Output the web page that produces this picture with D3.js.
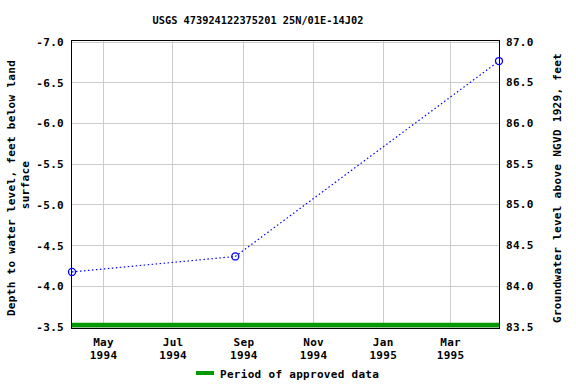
<!DOCTYPE html>
<html>
<head>
<meta charset="utf-8">
<script src="https://cdn.jsdelivr.net/npm/d3@7"></script>
<style>
  html, body { margin: 0; padding: 0; background: #fff; }
  text { font-family: "DejaVu Sans Mono", monospace; font-weight: bold; fill: #000; }
  .ls { letter-spacing: 0.3px; }
</style>
</head>
<body>
<svg id="chart" width="576" height="384"></svg>
<script>
// ---- data ----
const title = "USGS 473924122375201 25N/01E-14J02";
const dates = ["1994-04-04", "1994-08-25", "1995-04-13"];
const depths = [-4.17, -4.36, -6.76];
const leftTicks = [-7.0, -6.5, -6.0, -5.5, -5.0, -4.5, -4.0, -3.5];
const rightTicks = [87.0, 86.5, 86.0, 85.5, 85.0, 84.5, 84.0, 83.5];
const xTickDates = ["1994-05-01", "1994-07-01", "1994-09-01", "1994-11-01", "1995-01-01", "1995-03-01"];
const xTickMonths = ["May", "Jul", "Sep", "Nov", "Jan", "Mar"];
const xTickYears = ["1994", "1994", "1994", "1994", "1995", "1995"];
const approvedPeriod = ["1994-04-04", "1995-04-13"];
const leftLabel = ["Depth to water level, feet below land", "surface"];
const rightLabel = "Groundwater level above NGVD 1929, feet";
const legendLabel = "Period of approved data";

// ---- layout ----
const svg = d3.select("#chart");
const box = { left: 71, right: 499, top: 40, bottom: 328 };
const parse = d3.utcParse("%Y-%m-%d");

const x = d3.scaleUtc()
  .domain([parse(dates[0]), parse(dates[dates.length - 1])])
  .range([72, 499]);
const y = d3.scaleLinear().domain([-7.0, -3.5]).range([41.5, 326.5]);
const yR = d3.scaleLinear().domain([87.0, 83.5]).range([41.5, 326.5]);

// gridlines
const grid = svg.append("g").attr("stroke", "#cccccc").attr("stroke-width", 1);
leftTicks.forEach(v => {
  grid.append("line")
    .attr("x1", box.left).attr("x2", box.right)
    .attr("y1", Math.round(y(v)) + 0.5).attr("y2", Math.round(y(v)) + 0.5);
});
xTickDates.forEach(d => {
  const xx = Math.round(x(parse(d))) + 0.5;
  grid.append("line")
    .attr("x1", xx).attr("x2", xx)
    .attr("y1", box.top).attr("y2", box.bottom);
});

// approved period bar
svg.append("line")
  .attr("x1", x(parse(approvedPeriod[0])) - 1)
  .attr("x2", x(parse(approvedPeriod[1])) + 1)
  .attr("y1", y(-3.5) - 1.5).attr("y2", y(-3.5) - 1.5)
  .attr("stroke", "#009900").attr("stroke-width", 4.5);

// frame
svg.append("rect")
  .attr("x", box.left + 0.5).attr("y", box.top + 0.5)
  .attr("width", box.right - box.left).attr("height", box.bottom - box.top)
  .attr("fill", "none").attr("stroke", "#000").attr("stroke-width", 1);

// data line
const pts = dates.map((d, i) => [x(parse(d)), y(depths[i])]);
svg.append("path")
  .attr("d", d3.line()(pts))
  .attr("fill", "none").attr("stroke", "#0000ff").attr("stroke-width", 1.2)
  .attr("stroke-dasharray", "1.5,2.5");

svg.selectAll("circle.pt").data(pts).enter().append("circle")
  .attr("class", "pt")
  .attr("cx", d => d[0]).attr("cy", d => d[1]).attr("r", 3.5)
  .attr("fill", "none").attr("stroke", "#0000ff").attr("stroke-width", 1.3);

// left tick labels
svg.append("g").selectAll("text").data(leftTicks).enter().append("text")
  .attr("class", "ls")
  .attr("x", 64).attr("y", d => y(d) + 4.5)
  .attr("text-anchor", "end").attr("font-size", "11px")
  .text(d => d.toFixed(1));

// right tick labels
svg.append("g").selectAll("text").data(rightTicks).enter().append("text")
  .attr("class", "ls")
  .attr("x", 506).attr("y", d => yR(d) + 4)
  .attr("text-anchor", "start").attr("font-size", "11px")
  .text(d => d.toFixed(1));

// x tick labels
xTickDates.forEach((d, i) => {
  const xx = x(parse(d)) + 0.7;
  svg.append("text").attr("class", "ls").attr("x", xx).attr("y", 346)
    .attr("text-anchor", "middle").attr("font-size", "11px").text(xTickMonths[i]);
  svg.append("text").attr("class", "ls").attr("x", xx).attr("y", 358.5)
    .attr("text-anchor", "middle").attr("font-size", "11px").text(xTickYears[i]);
});

// title
svg.append("text").attr("x", 258).attr("y", 24)
  .attr("text-anchor", "middle").attr("font-size", "10.3px").text(title);

// left axis label
svg.append("text").attr("class", "ls")
  .attr("transform", "translate(15,188) rotate(-90)")
  .attr("text-anchor", "middle").attr("font-size", "11px").text(leftLabel[0]);
svg.append("text").attr("class", "ls")
  .attr("transform", "translate(29,185) rotate(-90)")
  .attr("text-anchor", "middle").attr("font-size", "11px").text(leftLabel[1]);

// right axis label
svg.append("text").attr("class", "ls")
  .attr("transform", "translate(560.5,188) rotate(-90)")
  .attr("text-anchor", "middle").attr("font-size", "11px").text(rightLabel);

// legend
svg.append("line")
  .attr("x1", 196).attr("x2", 214).attr("y1", 373).attr("y2", 373)
  .attr("stroke", "#009900").attr("stroke-width", 4);
svg.append("text").attr("class", "ls").attr("x", 220).attr("y", 377.5)
  .attr("font-size", "11px").text(legendLabel);
</script>
</body>
</html>
